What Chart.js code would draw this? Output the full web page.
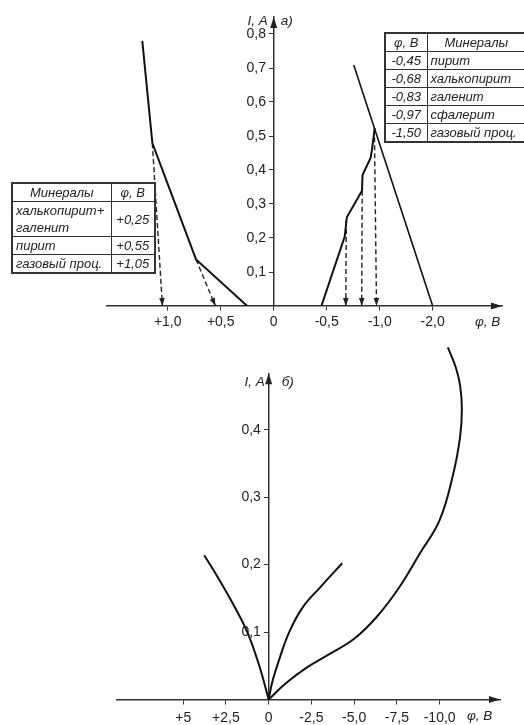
<!DOCTYPE html>
<html>
<head>
<meta charset="utf-8">
<script src="https://cdn.jsdelivr.net/npm/chart.js@4"></script>
<style>
  html, body { margin: 0; padding: 0; background: #fff; }
  body { width: 524px; height: 725px; position: relative; overflow: hidden;
         font-family: "Liberation Sans", Arial, sans-serif; }
  canvas { position: absolute; left: 0; }
  #chartA { top: 0; }
  #chartB { top: 340px; }
  table.mins { position: absolute; border-collapse: collapse; table-layout: fixed;
               font-style: italic; font-size: 13px; color: #222; border: 2px solid #333; }
  table.mins td { border: 1px solid #333; padding: 0 3px; line-height: 17px; white-space: pre; overflow: hidden; }
  table.mins tr { height: 18px; }
  table.mins td.c { text-align: center; }
  #tabCath { left: 384px; top: 32px; width: 141px; }
  #tabAnod { left: 11px; top: 182px; width: 143px; }
</style>
</head>
<body>
<canvas id="chartA" width="524" height="340"></canvas>
<canvas id="chartB" width="524" height="385"></canvas>
<table class="mins" id="tabCath"></table>
<table class="mins" id="tabAnod"></table>
<script>
const FONT = '"Liberation Sans", Arial, sans-serif';

// ---- Panel а: polarization curves, potential φ (V) vs current I (A) ----
const anodePhi = [1.24, 1.145, 0.733, 0.25];
const anodeI   = [0.78, 0.479, 0.137, 0];
const cathodePhi = [-0.45, -0.67, -0.69, -0.833, -0.838, -0.913, -0.927, -0.953];
const cathodeI   = [0, 0.204, 0.261, 0.339, 0.385, 0.435, 0.459, 0.523];
const gasPhi = [-0.755, -1.50];
const gasI   = [0.709, 0];
// dashed drop lines from curve breaks to the decomposition potentials
const dropPhiStart = [1.145, 0.733, -0.685, -0.835, -0.95];
const dropIStart   = [0.479, 0.137, 0.25, 0.339, 0.52];
const dropPhiEnd   = [1.05, 0.55, -0.68, -0.83, -0.97];

const tickPhiA = [1.0, 0.5, 0, -0.5, -1.0, -1.5];
const tickPhiLabelsA = ['+1,0', '+0,5', '0', '-0,5', '-1,0', '-2,0'];
const tickIA = [0.1, 0.2, 0.3, 0.4, 0.5, 0.6, 0.7, 0.8];
const tickILabelsA = ['0,1', '0,2', '0,3', '0,4', '0,5', '0,6', '0,7', '0,8'];

// potential tables
const cathodePotentials = ['-0,45', '-0,68', '-0,83', '-0,97', '-1,50'];
const cathodeMinerals = ['пирит', 'халькопирит', 'галенит', 'сфалерит', 'газовый проц.'];
const anodeMinerals = ['халькопирит+\nгаленит', 'пирит', 'газовый проц.'];
const anodePotentials = ['+0,25', '+0,55', '+1,05'];

// ---- Panel б ----
const curve1Phi = [0, 0.55, 1.25, 2.05, 2.9, 3.77];
const curve1I   = [0, 0.05, 0.10, 0.14, 0.178, 0.214];
const curve2Phi = [0, -0.2, -0.6, -1.2, -2.0, -3.0, -4.3];
const curve2I   = [0, 0.025, 0.058, 0.10, 0.137, 0.166, 0.202];
const curve3Phi = [0, -1.0, -2.2, -3.6, -5.0, -6.3, -7.6, -8.85, -10.0, -10.8, -11.2, -11.3, -11.2, -10.95, -10.48];
const curve3I   = [0, 0.024, 0.047, 0.068, 0.09, 0.122, 0.165, 0.217, 0.266, 0.335, 0.39, 0.43, 0.465, 0.492, 0.522];

const tickPhiB = [5, 2.5, 0, -2.5, -5, -7.5, -10];
const tickPhiLabelsB = ['+5', '+2,5', '0', '-2,5', '-5,0', '-7,5', '-10,0'];
const tickIB = [0.1, 0.2, 0.3, 0.4];
const tickILabelsB = ['0,1', '0,2', '0,3', '0,4'];

const axisTitleI = 'I, A';
const axisTitlePhi = 'φ, В';

// ---- tables ----
function buildTable(id, head, colA, colB, centerA, centerB) {
  const t = document.getElementById(id);
  const cg = document.createElement('colgroup');
  head.widths.forEach(w => { const c = document.createElement('col'); c.style.width = w + 'px'; cg.appendChild(c); });
  t.appendChild(cg);
  const hr = document.createElement('tr');
  head.labels.forEach(l => { const td = document.createElement('td'); td.className = 'c'; td.textContent = l; hr.appendChild(td); });
  t.appendChild(hr);
  colA.forEach((a, i) => {
    const tr = document.createElement('tr');
    const t1 = document.createElement('td'); t1.textContent = a; if (centerA) t1.className = 'c';
    const t2 = document.createElement('td'); t2.textContent = colB[i]; if (centerB) t2.className = 'c';
    tr.appendChild(t1); tr.appendChild(t2);
    t.appendChild(tr);
  });
}
buildTable('tabCath', {labels: [axisTitlePhi, 'Минералы'], widths: [42, 99]}, cathodePotentials, cathodeMinerals, true, false);
buildTable('tabAnod', {labels: ['Минералы', axisTitlePhi], widths: [99, 44]}, anodeMinerals, anodePotentials, false, true);

// ---- helpers ----
const pts = (xs, ys) => xs.map((v, i) => ({x: v, y: ys[i]}));

function arrowHead(ctx, x, y, ux, uy, len, half) {
  const bx = x - ux * len, by = y - uy * len;
  ctx.beginPath();
  ctx.moveTo(x, y);
  ctx.lineTo(bx - uy * half, by + ux * half);
  ctx.lineTo(bx + uy * half, by - ux * half);
  ctx.closePath();
  ctx.fill();
}

const decor = {
  id: 'decor',
  afterDraw(chart, args, o) {
    const {ctx, chartArea, scales: {x, y}} = chart;
    const x0 = x.getPixelForValue(0), y0 = y.getPixelForValue(0);
    ctx.save();
    ctx.fillStyle = '#222';
    arrowHead(ctx, chartArea.right, y0, 1, 0, 11, 3.5);
    arrowHead(ctx, x0, chartArea.top, 0, -1, 11, 3.5);
    chart.data.datasets.forEach((ds, i) => {
      if (!ds.arrow) return;
      const d = chart.getDatasetMeta(i).data;
      const a = d[d.length - 2], b = d[d.length - 1];
      const dx = b.x - a.x, dy = b.y - a.y, L = Math.hypot(dx, dy);
      arrowHead(ctx, b.x, b.y, dx / L, dy / L, 8, 2.8);
    });
    ctx.font = 'italic 13.5px ' + FONT;
    ctx.textBaseline = 'middle';
    ctx.textAlign = 'right';
    ctx.fillText(axisTitleI, x0 + o.iDx, chartArea.top + o.iDy);
    ctx.textAlign = 'left';
    ctx.fillText(o.panel, x0 + o.pDx, chartArea.top + o.iDy);
    ctx.fillText(axisTitlePhi, chartArea.right + o.phiDx, y0 + o.phiDy);
    ctx.restore();
  }
};

function xAxis(min, max, ticks, labels, pad) {
  return {
    type: 'linear', reverse: true, min, max,
    position: {y: 0},
    afterBuildTicks: s => { s.ticks = ticks.map(v => ({value: v})); },
    ticks: { callback: (v, i) => labels[i], color: '#222', font: {size: 14, family: FONT},
             padding: pad, maxRotation: 0, autoSkip: false },
    grid: { display: true, drawOnChartArea: false, drawTicks: true, tickLength: 4, color: '#333', lineWidth: 1 },
    border: { display: true, color: '#333', width: 1.5 }
  };
}
// labels of an axis placed at x = 0 are right-aligned on the axis line,
// so two trailing spaces keep them clear of the tick marks
function yAxis(min, max, ticks, labels) {
  return {
    type: 'linear', min, max,
    position: {x: 0},
    afterBuildTicks: s => { s.ticks = ticks.map(v => ({value: v})); },
    ticks: { callback: (v, i) => labels[i] + '  ', color: '#222', font: {size: 14, family: FONT},
             padding: 3, autoSkip: false },
    grid: { display: true, drawOnChartArea: false, drawTicks: true, tickLength: 4, color: '#333', lineWidth: 1 },
    border: { display: true, color: '#333', width: 1.5 }
  };
}

const solid = (data, extra) => Object.assign({data, showLine: true, pointRadius: 0, borderColor: '#111',
  borderWidth: 2, fill: false, tension: 0}, extra || {});

const dropSets = dropPhiStart.map((p, i) => ({
  data: [{x: p, y: dropIStart[i]}, {x: dropPhiEnd[i], y: 0}],
  showLine: true, pointRadius: 0, borderColor: '#222', borderWidth: 1.4,
  borderDash: [5, 3], fill: false, arrow: true
}));

const common = {
  responsive: false, animation: false, events: [],
  plugins: { legend: {display: false}, tooltip: {enabled: false} }
};

new Chart(document.getElementById('chartA'), {
  type: 'scatter',
  data: { datasets: [
    solid(pts(anodePhi, anodeI)),
    solid(pts(cathodePhi, cathodeI)),
    solid(pts(gasPhi, gasI), {borderWidth: 1.6}),
    ...dropSets
  ]},
  options: Object.assign({}, common, {
    layout: { padding: {left: 107, right: 22, top: 17, bottom: 34} },
    scales: {
      x: xAxis(-2.154, 1.573, tickPhiA, tickPhiLabelsA, 4),
      y: yAxis(0, 0.85, tickIA, tickILabelsA)
    },
    plugins: Object.assign({}, common.plugins, {
      decor: {panel: 'а)', iDx: -6, iDy: 4, pDx: 7, phiDx: -27, phiDy: 16}
    })
  }),
  plugins: [decor]
});

new Chart(document.getElementById('chartB'), {
  type: 'scatter',
  data: { datasets: [
    solid(pts(curve1Phi, curve1I), {tension: 0.4, clip: false}),
    solid(pts(curve2Phi, curve2I), {tension: 0.4, clip: false}),
    solid(pts(curve3Phi, curve3I), {tension: 0.4, clip: false})
  ]},
  options: Object.assign({}, common, {
    layout: { padding: {left: 116.7, right: 24, top: 33.3, bottom: 25.5} },
    scales: {
      x: xAxis(-13.53, 8.889, tickPhiB, tickPhiLabelsB, 6),
      y: yAxis(0, 0.4837, tickIB, tickILabelsB)
    },
    plugins: Object.assign({}, common.plugins, {
      decor: {panel: 'б)', iDx: -4, iDy: 9, pDx: 13, phiDx: -33, phiDy: 17}
    })
  }),
  plugins: [decor]
});
</script>
</body>
</html>
